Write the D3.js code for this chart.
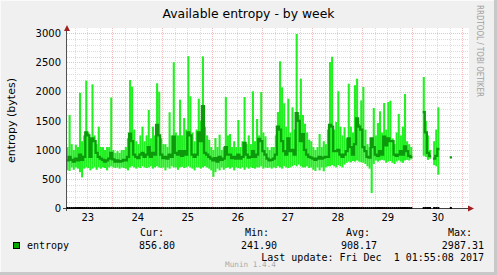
<!DOCTYPE html>
<html>
<head>
<meta charset="utf-8">
<script src="https://d3js.org/d3.v7.min.js"></script>
<style>
	body { margin: 0; background: #f0f0f0; }
	svg text { font-family: "DejaVu Sans", sans-serif; }
	svg .mono { font-family: "DejaVu Sans Mono", monospace; white-space: pre; }
</style>
</head>
<body>
<div id="chart"></div>
<script>
// one sample per hour, first sample = 23 Nov 2017 02:00 UTC
var startTime = Date.UTC(2017, 10, 23, 2);

var maxVals = [
	1050,1600,1100,1000,1090,1050,1980,1150,1250,2190,1300,1150,
	2126,1250,1100,1400,1050,1050,1000,1050,1050,1900,1000,950,
	980,950,1000,1000,1050,1200,2200,2085,1350,1150,1100,1250,
	1400,1150,1250,1685,1200,1400,1250,2143,2000,1200,1100,1100,
	1050,1646,1250,2505,1300,1250,1862,1250,1548,1350,2608,1920,
	1300,1150,1350,1879,1500,2605,1400,1250,1176,1050,1000,1205,
	1050,1262,1000,1050,1908,1250,1274,1050,1150,1050,1514,1050,
	1150,1908,1100,1250,1100,2006,1150,1531,1250,1994,1300,1234,
	1050,1000,1050,1050,1250,1650,2520,2074,1800,1400,1879,1300,
	1731,1350,2988,1600,2222,1600,1450,1300,1176,1150,1050,1000,
	1050,1274,1050,1150,1100,1350,2508,2599,1350,1480,2006,1400,
	1250,1389,1200,2136,1400,1300,2109,2222,1450,1850,2080,1350,
	1100,1050,1200,1720,1250,1462,1663,1300,1805,1350,1822,1845,
	1200,1100,1300,1617,1250,1400,1960,1150,1100,1050,null,null,
	null,null,null,2251,1500,1250,1000,null,1150,1350,1731,null,
	null,null,null,null,874,null,null,null,null,null,null,null
];

var avgVals = [
	820,880,830,800,850,820,920,830,880,1300,1250,880,
	1200,1150,950,880,850,830,800,820,850,950,840,800,
	820,800,810,830,820,880,1280,1150,920,880,860,920,
	950,880,920,1050,880,950,920,1430,1250,920,860,880,
	850,920,880,1230,950,920,980,900,980,920,1300,1250,
	920,880,920,1300,1150,1750,950,920,880,850,820,860,
	800,880,830,850,1050,920,920,860,880,850,920,850,
	880,1120,920,870,880,980,880,920,1190,1150,980,920,
	850,820,830,850,920,1400,1350,1150,980,920,1200,980,
	1000,920,1630,1500,1150,1270,1000,920,880,870,850,830,
	850,880,850,870,880,880,1430,1400,980,980,1000,920,
	880,920,980,1200,1050,920,1100,1540,1400,1350,1050,980,
	880,870,1200,1050,920,900,980,920,1230,1080,1200,1150,
	1150,920,900,920,980,920,1060,980,900,880,null,null,
	null,null,null,1650,1300,950,900,null,850,900,1020,null,
	null,null,null,null,874,null,null,null,null,null,null,null
];

var minVals = [
	650,640,700,660,700,680,620,530,680,700,690,650,
	680,700,660,700,680,700,690,650,700,720,700,690,
	700,680,700,690,680,650,700,720,700,680,700,690,
	720,700,690,700,720,680,700,720,700,690,700,650,
	700,680,720,700,700,660,700,710,690,700,720,700,
	680,650,700,700,680,700,720,700,680,650,540,620,
	680,650,700,660,690,700,680,700,650,700,690,680,
	700,660,700,680,700,690,680,700,700,720,680,700,
	690,700,680,700,690,720,700,680,720,700,690,700,
	720,740,720,750,720,700,700,720,690,700,660,640,
	700,650,700,634,700,720,720,740,720,700,740,720,
	700,750,780,800,790,810,800,820,800,790,780,760,
	720,680,262,760,820,800,820,830,820,780,800,810,
	780,760,800,820,800,780,820,830,820,840,null,null,
	null,null,null,900,880,830,850,null,740,720,576,null,
	null,null,null,null,874,null,null,null,null,null,null,null
];

var yTicks = [0, 500, 1000, 1500, 2000, 2500, 3000];
var dayLabels = ["23", "24", "25", "26", "27", "28", "29", "30"];
var legendHeads = ["Cur:", "Min:", "Avg:", "Max:"];
var legendValues = ["856.80", "241.90", "908.17", "2987.31"];
var lastUpdate = "Last update: Fri Dec  1 01:55:08 2017";

(function() {
	var width = 497,
		height = 275;
	var hour = 3600 * 1000;

	var svg = d3.select("#chart")
		.append("svg")
		.attr("width", width)
		.attr("height", height);

	// background with 3d border
	svg.append("rect").attr("width", width).attr("height", height).attr("fill", "#f0f0f0");
	svg.append("rect").attr("x", 0).attr("y", 0).attr("width", width).attr("height", 1).attr("fill", "#fafafa");
	svg.append("rect").attr("x", 0).attr("y", 0).attr("width", 1).attr("height", height).attr("fill", "#fafafa");
	svg.append("rect").attr("x", width - 3).attr("y", 0).attr("width", 3).attr("height", height).attr("fill", "#c8c8c8");
	svg.append("rect").attr("x", 0).attr("y", height - 3).attr("width", width).attr("height", 3).attr("fill", "#c8c8c8");

	var x = d3.scaleUtc()
		.domain([Date.UTC(2017, 10, 23, 2, 15), Date.UTC(2017, 11, 1, 2, 15)])
		.range([67, 467]);

	var y = d3.scaleLinear()
		.domain([0, 3000])
		.range([208.3, 33.3]);

	var samples = maxVals.map(function(v, i) {
		return { t: startTime + i * hour, max: v, avg: avgVals[i], min: minVals[i] };
	});

	// canvas
	svg.append("rect")
		.attr("x", 67).attr("y", 28)
		.attr("width", 402).attr("height", 180)
		.attr("fill", "#ffffff");

	var grid = svg.append("g")
		.attr("shape-rendering", "crispEdges");

	function hline(sel, color) {
		sel.attr("x1", 67).attr("x2", 469)
			.attr("y1", function(d) { return Math.round(y(d)) + 0.5; })
			.attr("y2", function(d) { return Math.round(y(d)) + 0.5; })
			.attr("stroke", color)
			.attr("stroke-dasharray", "1,1");
	}
	function vline(sel, color) {
		sel.attr("x1", function(d) { return Math.round(x(d)) + 0.5; })
			.attr("x2", function(d) { return Math.round(x(d)) + 0.5; })
			.attr("y1", 28).attr("y2", 208)
			.attr("stroke", color)
			.attr("stroke-dasharray", "1,1");
	}

	var hMinor = d3.range(100, 3001, 100).filter(function(v) { return v % 500 !== 0; });
	grid.selectAll(".hminor")
		.data(hMinor)
		.enter().append("line")
		.call(hline, "#dcdcdc");

	var vMinor = d3.utcHour.every(6).range(x.domain()[0], x.domain()[1])
		.filter(function(d) { return d.getUTCHours() !== 0; });
	grid.selectAll(".vminor")
		.data(vMinor)
		.enter().append("line")
		.call(vline, "#dcdcdc");

	grid.selectAll(".hmajor")
		.data(yTicks.slice(1))
		.enter().append("line")
		.call(hline, "#f5bcbc");

	grid.selectAll(".vmajor")
		.data(d3.utcDay.range(x.domain()[0], x.domain()[1]))
		.enter().append("line")
		.call(vline, "#f5bcbc");

	var defined = samples.filter(function(d) { return d.max !== null; });

	// min..max range
	svg.append("g").selectAll("rect")
		.data(defined)
		.enter().append("rect")
		.attr("x", function(d) { return x(d.t); })
		.attr("width", function(d) { return x(d.t + hour) - x(d.t); })
		.attr("y", function(d) { return y(d.max); })
		.attr("height", function(d) { return Math.max(0, y(d.min) - y(d.max)); })
		.attr("fill", "#22f022");

	// average line
	var avgLine = d3.line()
		.defined(function(d) { return d.avg !== null; })
		.x(function(d) { return x(d.t + hour / 2); })
		.y(function(d) { return y(d.avg); })
		.curve(d3.curveStep);

	svg.append("path")
		.datum(samples)
		.attr("d", avgLine)
		.attr("fill", "none")
		.attr("stroke", "#0c9a0c")
		.attr("stroke-width", 2.2)
		.attr("stroke-linecap", "square");

	// axes
	svg.append("line")
		.attr("x1", 63).attr("x2", 469)
		.attr("y1", 208.5).attr("y2", 208.5)
		.attr("stroke", "#404040");
	svg.append("line")
		.attr("x1", 66.5).attr("x2", 66.5)
		.attr("y1", 211).attr("y2", 29)
		.attr("stroke", "#505050");

	// data-present marker on the zero line
	svg.append("g").selectAll("rect")
		.data(defined)
		.enter().append("rect")
		.attr("x", function(d) { return x(d.t); })
		.attr("width", function(d) { return x(d.t + hour) - x(d.t); })
		.attr("y", y(0) - 1.3)
		.attr("height", 2)
		.attr("fill", "#000000");

	svg.append("path")
		.attr("d", "M64,31L70,31L67,25Z")
		.attr("fill", "#a02020");
	svg.append("path")
		.attr("d", "M468,205.5L468,211.5L474,208.5Z")
		.attr("fill", "#a02020");

	var yAxis = d3.axisLeft(y)
		.tickValues(yTicks)
		.tickFormat(d3.format("d"))
		.tickSize(0)
		.tickPadding(6);
	var gy = svg.append("g")
		.attr("transform", "translate(67,0)")
		.call(yAxis);
	gy.select(".domain").remove();
	gy.selectAll("text")
		.attr("font-size", "10px")
		.attr("font-family", "DejaVu Sans")
		.attr("fill", "#000");

	var noons = dayLabels.map(function(d) { return Date.UTC(2017, 10, +d, 12); });
	var xAxis = d3.axisBottom(x)
		.tickValues(noons)
		.tickFormat(function(d, i) { return dayLabels[i]; })
		.tickSize(0)
		.tickPadding(6);
	var gx = svg.append("g")
		.attr("transform", "translate(0,208)")
		.call(xAxis);
	gx.select(".domain").remove();
	gx.selectAll("text")
		.attr("font-size", "10px")
		.attr("font-family", "DejaVu Sans")
		.attr("fill", "#000");

	// title and labels
	svg.append("text")
		.attr("x", 248.5).attr("y", 17.5)
		.attr("text-anchor", "middle")
		.attr("font-size", "12.4px")
		.text("Available entropy - by week");

	svg.append("text")
		.attr("transform", "translate(15,120.5) rotate(-90)")
		.attr("text-anchor", "middle")
		.attr("font-size", "11px")
		.text("entropy (bytes)");

	svg.append("text")
		.attr("transform", "translate(477,5) rotate(90)")
		.attr("font-size", "8px")
		.attr("textLength", 92)
		.attr("lengthAdjust", "spacingAndGlyphs")
		.attr("fill", "#a0a0a0")
		.text("RRDTOOL / TOBI OETIKER");

	// legend
	var headX = [140, 245, 346, 448];
	var valX = [175, 277, 377, 484];

	svg.append("g").selectAll("text")
		.data(legendHeads)
		.enter().append("text")
		.attr("class", "mono")
		.attr("x", function(d, i) { return headX[i]; })
		.attr("y", 236)
		.attr("font-size", "10px")
		.text(function(d) { return d; });

	svg.append("g").selectAll("text")
		.data(legendValues)
		.enter().append("text")
		.attr("class", "mono")
		.attr("x", function(d, i) { return valX[i]; })
		.attr("y", 249)
		.attr("text-anchor", "end")
		.attr("font-size", "10px")
		.text(function(d) { return d; });

	svg.append("rect")
		.attr("x", 13.5).attr("y", 242.5)
		.attr("width", 6).attr("height", 6)
		.attr("fill", "#00a800")
		.attr("stroke", "#000");

	svg.append("text")
		.attr("class", "mono")
		.attr("x", 27).attr("y", 249)
		.attr("font-size", "10px")
		.text("entropy");

	svg.append("text")
		.attr("class", "mono")
		.attr("x", 225).attr("y", 266.7)
		.attr("font-size", "7.7px")
		.attr("fill", "#aaaaaa")
		.text("Munin 1.4.4");

	svg.append("text")
		.attr("class", "mono")
		.attr("x", 484).attr("y", 261)
		.attr("text-anchor", "end")
		.attr("font-size", "10px")
		.text(lastUpdate);

})();
</script>
</body>
</html>
